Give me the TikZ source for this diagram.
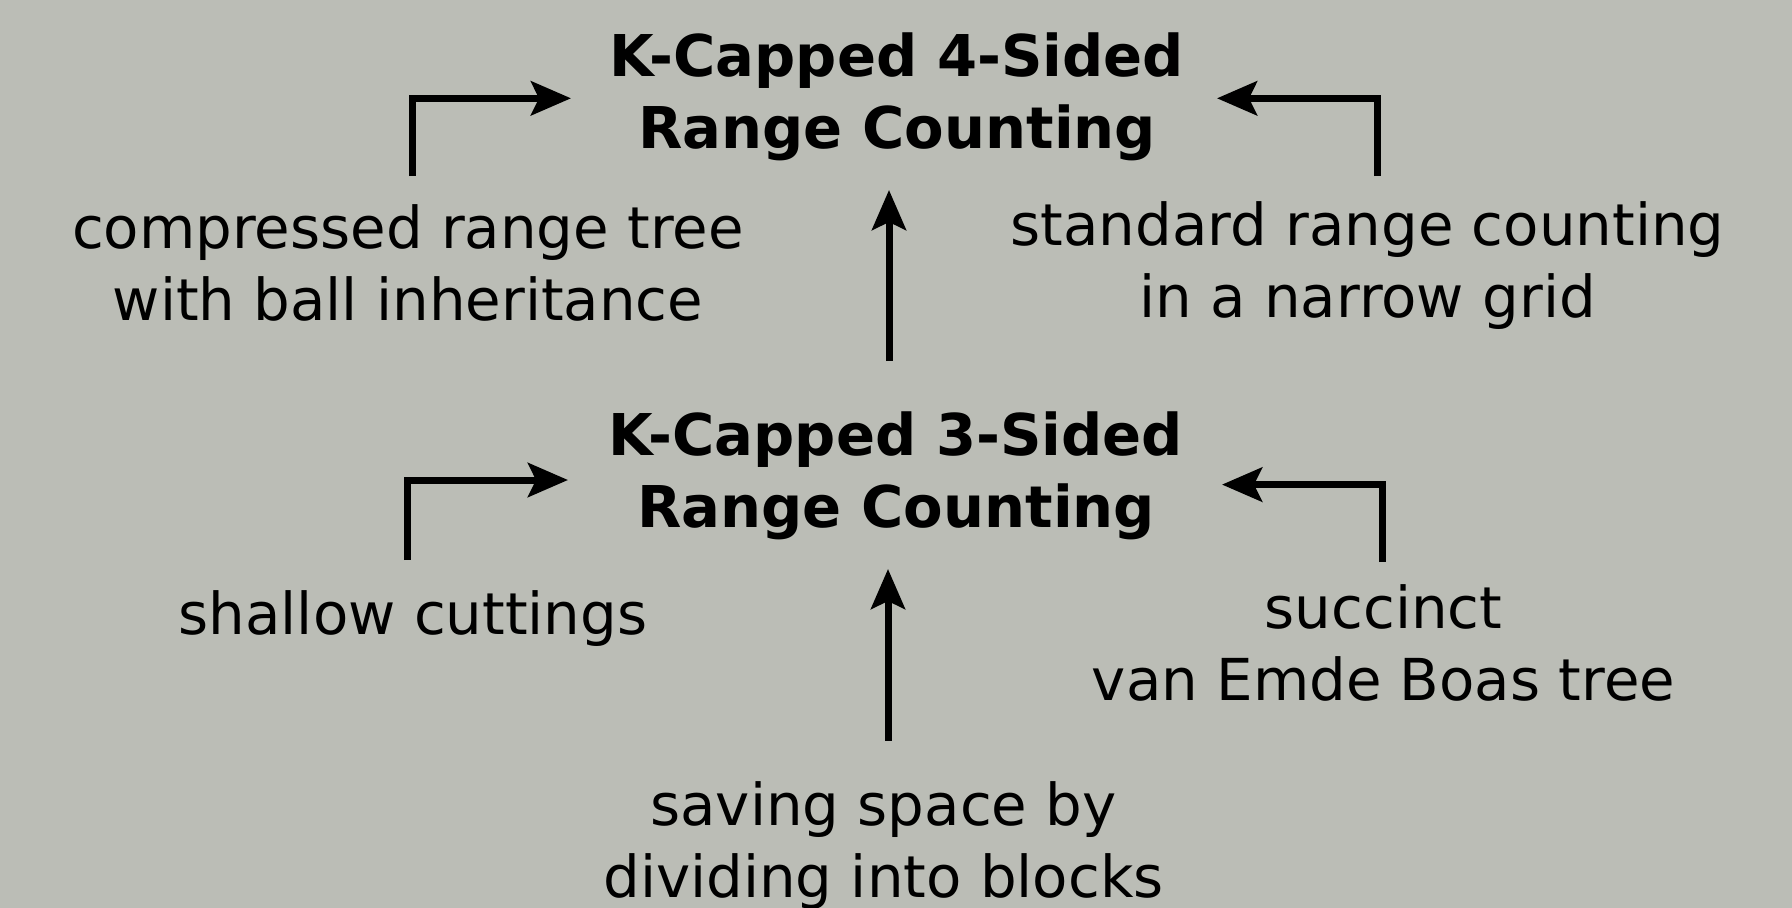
\documentclass[tikz,border=0pt]{standalone}
\usepackage{fontspec}
\setmainfont{DejaVu Sans}
\usetikzlibrary{arrows.meta}
\definecolor{bg}{RGB}{187,189,182}
\tikzset{
  lbl/.style={font=\fontsize{57.8}{72}\selectfont, align=center, inner sep=0pt, anchor=base},
  ttl/.style={font=\fontsize{57.6}{72}\selectfont\bfseries, align=center, inner sep=0pt, anchor=base},
  arr/.style={line width=7pt, line join=miter, -{Stealth[length=40pt,width=34pt,inset=8pt]}}
}
\begin{document}
\begin{tikzpicture}[x=1pt,y=-1pt]
\fill[bg] (0,0) rectangle (1792,908);
\useasboundingbox (0,0) rectangle (1792,908);
\node[ttl] (t4) at (897,148.6) {K-Capped 4-Sided\\Range Counting};
\node[ttl] (t3) at (896,527) {K-Capped 3-Sided\\Range Counting};
\node[lbl] (crt) at (408,320) {compressed range tree\\with ball inheritance};
\node[lbl] (std) at (1367.5,317.7) {standard range counting\\in a narrow grid};
\node[lbl] (sc) at (413,634) {shallow cuttings};
\node[lbl] (veb) at (1383.5,700.6) {succinct\\van Emde Boas tree};
\node[lbl] (sav) at (883.5,897) {saving space by\\dividing into blocks};
\coordinate (crtA) at (412.6,176);
\coordinate (t4L) at (571,98.3);
\coordinate (stdA) at (1377,176);
\coordinate (t4R) at (1217,98.3);
\coordinate (t3T) at (889,361);
\coordinate (t4B) at (889,190);
\coordinate (scA) at (407,560);
\coordinate (t3L) at (568,480);
\coordinate (vebA) at (1382,562);
\coordinate (t3R) at (1222,484.6);
\coordinate (savA) at (888,740.6);
\coordinate (t3B) at (888,569);
\draw[arr] (crtA) |- (t4L);
\draw[arr] (stdA) |- (t4R);
\draw[arr] (t3T) -- (t4B);
\draw[arr] (scA) |- (t3L);
\draw[arr] (vebA) |- (t3R);
\draw[arr] (savA) -- (t3B);
\end{tikzpicture}
\end{document}
